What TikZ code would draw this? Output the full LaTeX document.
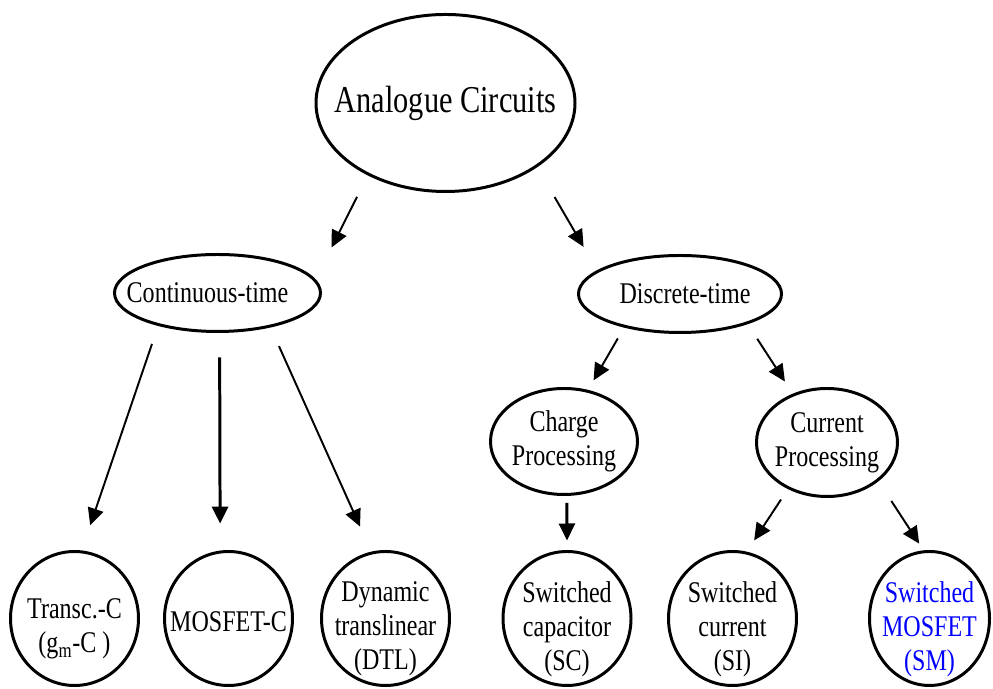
\documentclass[tikz,border=0pt]{standalone}
\usepackage{fontspec}
\setmainfont{Liberation Serif}[FakeStretch=0.8]
\usepackage{tikz}
\usetikzlibrary{shapes.geometric,arrows.meta}

\begin{document}
\begin{tikzpicture}[
    oval/.style={ellipse, draw, line width=1.7pt, inner sep=0pt},
    leaf/.style={oval, minimum width=2.56cm, minimum height=2.68cm},
    txt/.style={align=center, inner sep=0pt, font=\fontsize{17.1}{19.4}\selectfont},
    leaftxt/.style={txt, yshift=-0.21cm},
    arr/.style={-{Triangle[length=0.34cm,width=0.32cm]}, line width=1.1pt},
    thickarr/.style={arr, line width=1.7pt}
]
    % Fix the page size
    \useasboundingbox (0,0) rectangle (19.86,13.78);

    % Define the root
    \node[oval, minimum width=5.18cm, minimum height=3.54cm,
        label={[txt, font=\fontsize{21.6}{24}\selectfont]center:Analogue Circuits}] (ac) at (8.91,11.72) {};

    % Define the two time domains
    \node[oval, minimum width=4.12cm, minimum height=1.54cm,
        label={[txt, xshift=-0.2cm]center:Continuous-time}] (ct) at (4.35,7.92) {};
    \node[oval, minimum width=4.06cm, minimum height=1.54cm,
        label={[txt, xshift=0.1cm]center:Discrete-time}] (dt) at (13.60,7.90) {};

    % Define the discrete-time branches
    \node[oval, minimum width=2.94cm, minimum height=2.12cm,
        label={[txt]center:{Charge\\Processing}}] (cp) at (11.28,4.95) {};
    \node[oval, minimum width=2.82cm, minimum height=2.16cm,
        label={[txt]center:{Current\\Processing}}] (cu) at (16.54,4.93) {};

    % Define the circuit families
    \node[leaf, label={[leaftxt]center:{Transc.-C\\(g\textsubscript{m}-C )}}] (tc) at (1.49,1.41) {};
    \node[leaf, label={[txt, yshift=-0.06cm]center:MOSFET-C}] (mc) at (4.57,1.41) {};
    \node[leaf, label={[leaftxt]center:{Dynamic\\translinear\\(DTL)}}] (dtl) at (7.71,1.41) {};
    \node[leaf, label={[leaftxt]center:{Switched\\capacitor\\(SC)}}] (sc) at (11.34,1.41) {};
    \node[leaf, label={[leaftxt]center:{Switched\\current\\(SI)}}] (si) at (14.65,1.41) {};
    \node[leaf, minimum width=2.40cm,
        label={[leaftxt, text=blue]center:{Switched\\MOSFET\\(SM)}}] (sm) at (18.59,1.41) {};

    % Connect the root to the time domains
    \draw[arr, shorten <=0.48cm, shorten >=0.71cm] (ac.223.8) -- (ct.8.3);
    \draw[arr, shorten <=0.69cm, shorten >=0.54cm] (ac.325.1) -- (dt.164.3);

    % Connect the continuous-time families
    \draw[arr, shorten <=0.38cm, shorten >=0.53cm] (ct.209.8) -- (tc.84.1);
    \draw[thickarr, shorten <=0.49cm, shorten >=0.54cm] (ct.273.7) -- (mc.97.3);
    \draw[arr, shorten <=0.41cm, shorten >=0.55cm] (ct.327.5) -- (dtl.102.8);

    % Connect the discrete-time branches
    \draw[arr, shorten <=0.25cm, shorten >=0.22cm] (dt.211.9) -- (cp.65.1);
    \draw[arr, shorten <=0.35cm, shorten >=0.29cm] (dt.336.1) -- (cu.125.8);

    % Connect the processing types to their families
    \draw[thickarr, shorten <=0.14cm, shorten >=0.19cm] (cp.273) -- (sc.north);
    \draw[arr, shorten <=0.25cm, shorten >=0.27cm] (cu.230.5) -- (si.78.3);
    \draw[arr, shorten <=0.47cm, shorten >=0.16cm] (cu.323.3) -- (sm.95.8);

\end{tikzpicture}
\end{document}
